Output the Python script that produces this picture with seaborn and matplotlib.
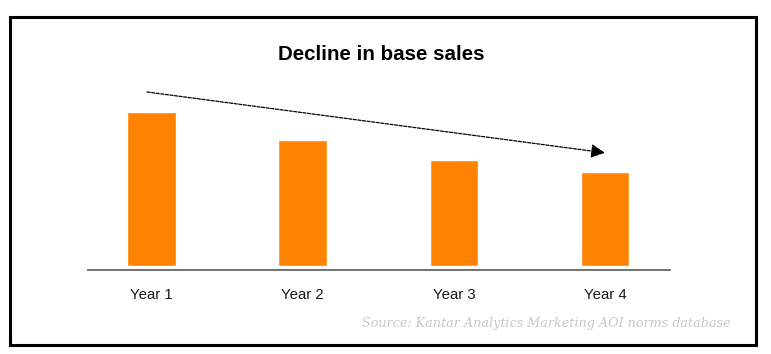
import matplotlib
matplotlib.use("Agg")
import matplotlib.pyplot as plt
import seaborn as sns
import pandas as pd
from matplotlib.patches import Rectangle

categories = ["Year 1", "Year 2", "Year 3", "Year 4"]
values = [100, 82, 69, 61]
title = "Decline in base sales"
source = "Source: Kantar Analytics Marketing AOI norms database"

sns.set_theme(style="white")
plt.rcParams["font.family"] = ["Liberation Sans", "DejaVu Sans"]

W, H = 771, 354
fig = plt.figure(figsize=(W / 100, H / 100), dpi=100)

# axes: x from px 88 to 670, bottom at px 270, top at px 80
ax = fig.add_axes([88 / W, (H - 270) / H, (670 - 88) / W, (270 - 80) / H])
df = pd.DataFrame({"year": categories, "value": values})
sns.barplot(data=df, x="year", y="value", color="#FF8300", saturation=1,
            width=0.32, ax=ax)

px_per_unit = 1.54
ax.set_xlim(-0.42, 3.43)
ax.set_ylim(-4 / px_per_unit, (270 - 80) / px_per_unit - 4 / px_per_unit)

for s in ["top", "right", "left"]:
    ax.spines[s].set_visible(False)
ax.spines["bottom"].set_color("#666666")
ax.spines["bottom"].set_linewidth(1.3)
ax.set_yticks([])
ax.set_xlabel("")
ax.set_ylabel("")
ax.tick_params(axis="x", length=0, pad=13, labelsize=10.8, labelcolor="#1a1a1a")

# trend arrow
off = 13
ax.annotate("", xy=(3, values[3] + off - 0.5), xytext=(-0.03, values[0] + off),
            arrowprops=dict(arrowstyle="-|>", color="black", lw=0.9,
                            linestyle=(0, (2.5, 1.2)), mutation_scale=21,
                            shrinkA=0, shrinkB=0))

fig.text(381 / W, (H - 55) / H, title, ha="center", va="center",
         fontsize=14.8, fontweight="bold", color="black")
fig.text(731 / W, (H - 324) / H, source, ha="right", va="center",
         fontsize=9.2, style="italic", color="#c8c8c8",
         family=["DejaVu Serif"])

fig.patches.append(Rectangle((10 / W, (H - 345) / H), 746 / W, 328 / H,
                             transform=fig.transFigure, fill=False,
                             edgecolor="black", linewidth=2.2))

fig.savefig("out.png", dpi=100)
